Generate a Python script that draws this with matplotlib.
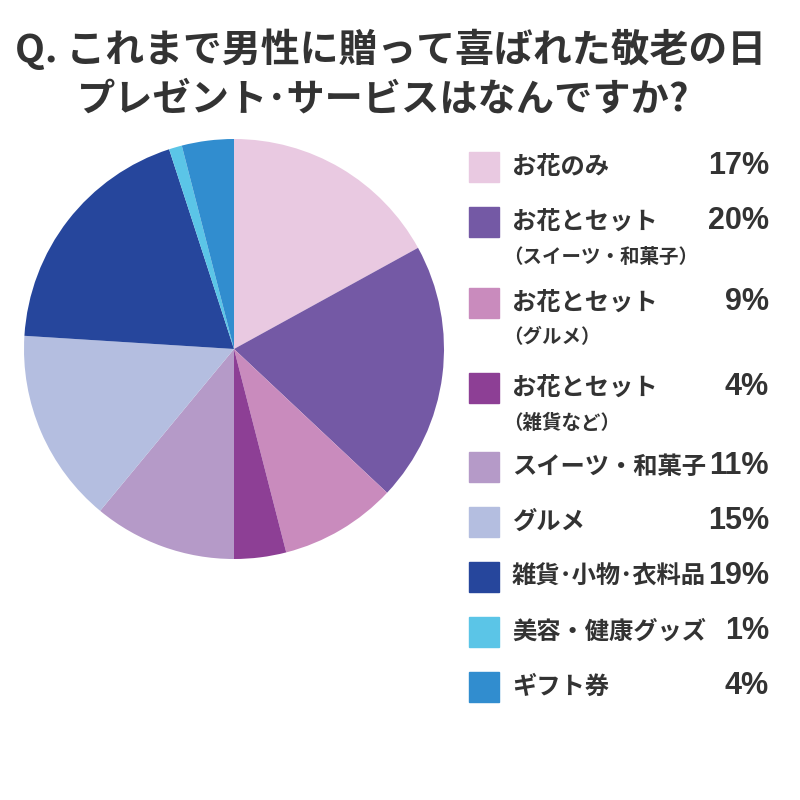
import matplotlib.pyplot as plt
import matplotlib as mpl
from matplotlib.patches import Rectangle

# ---- Data ----
labels = ["お花のみ", "お花とセット", "お花とセット", "お花とセット",
          "スイーツ・和菓子", "グルメ", "雑貨･小物･衣料品", "美容・健康グッズ", "ギフト券"]
sublabels = ["", "（スイーツ・和菓子）", "（グルメ）", "（雑貨など）", "", "", "", "", ""]
shares = [17, 20, 9, 4, 11, 15, 19, 1, 4]
colors = ["#e9c9e1", "#7459a5", "#c98bbd", "#8d3f95", "#b59ac8",
          "#b4bee0", "#26469c", "#5bc5e7", "#318dcf"]

title_1 = "Q. これまで男性に贈って喜ばれた敬老の日"
title_2 = "プレゼント･サービスはなんですか?"

mpl.rcParams["font.family"] = ["Noto Sans CJK JP", "DejaVu Sans"]
TXT = "#333333"

fig = plt.figure(figsize=(8, 8), dpi=100)
W = H = 800.0

# ---- Title ----
fig.text(391 / W, 1 - 49 / H, title_1, ha="center", va="center", fontsize=28,
         fontweight="bold", color=TXT)
fig.text(383 / W, 1 - 99 / H, title_2, ha="center", va="center", fontsize=27.5,
         fontweight="bold", color=TXT)

# ---- Pie ----
cx, cy, r = 234, 349, 210
ax = fig.add_axes([(cx - r) / W, 1 - (cy + r) / H, 2 * r / W, 2 * r / H])
ax.pie(shares, colors=colors, startangle=90, counterclock=False,
       wedgeprops=dict(linewidth=0))
ax.set_xlim(-1, 1)
ax.set_ylim(-1, 1)
ax.set_aspect("equal")
ax.axis("off")

# ---- Legend ----
row_y = [167, 222, 303, 388, 467, 522, 577, 632, 687]
for lab, sub, v, c, y in zip(labels, sublabels, shares, colors, row_y):
    fig.patches.append(Rectangle((469 / W, 1 - (y + 15) / H), 30 / W, 30 / H,
                                 transform=fig.transFigure, color=c))
    fig.text(512 / W, 1 - y / H, lab, ha="left", va="center", fontsize=17.5,
             fontweight="bold", color=TXT)
    fig.text(769 / W, 1 - (y - 1) / H, f"{v}%", ha="right", va="center",
             fontsize=22, fontweight="bold", color=TXT,
             family=["Liberation Sans", "DejaVu Sans"])
    if sub:
        fig.text(503 / W, 1 - (y + 35) / H, sub, ha="left", va="center",
                 fontsize=14, fontweight="bold", color=TXT)

fig.savefig("out.png", dpi=100, facecolor="white")
